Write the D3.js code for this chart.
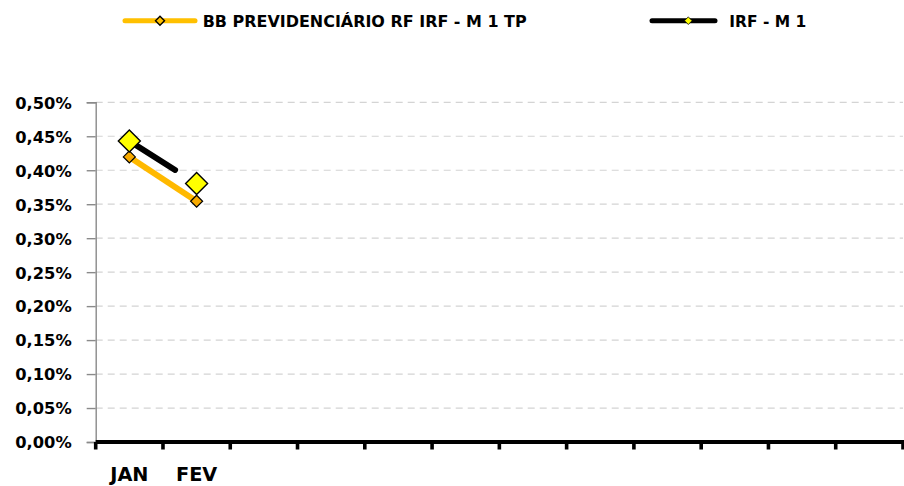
<!DOCTYPE html>
<html><head><meta charset="utf-8">
<script src="https://cdn.jsdelivr.net/npm/d3@7"></script>
<style>
html,body{margin:0;padding:0;background:#fff;}
svg{display:block;font-family:"DejaVu Sans",Verdana,sans-serif;font-weight:bold;}
</style></head>
<body><svg id="c" width="904" height="486"></svg>
<script>
const months = ["JAN","FEV","MAR","ABR","MAI","JUN","JUL","AGO","SET","OUT","NOV","DEZ"];
const monthLabels = ["JAN","FEV","","","","","","","","","",""];
const bbValues = [0.4196, 0.3544];
const irfValues = [0.4431, 0.3804];
const yTicks = [0,0.05,0.10,0.15,0.20,0.25,0.30,0.35,0.40,0.45,0.50];
const seriesNames = ["BB PREVIDENCIÁRIO RF IRF - M 1 TP","IRF - M 1"];

const svg = d3.select("#c");
const L=95.7, R=903, T=102.3, B=442;
const x = d3.scaleBand().domain(months).range([L,R]);
const y = d3.scaleLinear().domain([0,0.5]).range([B,T]);
const fmt = v => d3.format(".2f")(v).replace(".",",")+"%";
const FONT = "'DejaVu Sans',Verdana,sans-serif";

// gridlines
svg.append("g").selectAll("line").data(yTicks.filter(d=>d>0)).join("line")
  .attr("x1",L).attr("x2",R).attr("y1",d=>y(d)).attr("y2",d=>y(d))
  .attr("stroke","#d4d4d4").attr("stroke-width",1.2).attr("stroke-dasharray","7,5");

// y axis
const ya = svg.append("g").attr("transform",`translate(${L},0)`)
  .call(d3.axisLeft(y).tickValues(yTicks).tickFormat(fmt).tickSize(9).tickPadding(15));
ya.select(".domain").attr("stroke","#8a8a8a").attr("stroke-width",1.4);
ya.selectAll(".tick line").attr("stroke","#8a8a8a").attr("stroke-width",1.4);
ya.selectAll("text").attr("font-size",16.3).attr("font-weight","bold").attr("fill","#000")
  .attr("font-family",FONT).attr("dy","0.36em");

// x axis
const xTickPos = months.map(m=>x(m)).concat([R]);
const xa = svg.append("g");
xa.append("line").attr("x1",L).attr("x2",R+1).attr("y1",B).attr("y2",B)
  .attr("stroke","#000").attr("stroke-width",4);
xa.selectAll("line.t").data(xTickPos).join("line").attr("class","t")
  .attr("x1",d=>d).attr("x2",d=>d).attr("y1",B).attr("y2",B+7.5)
  .attr("stroke","#000").attr("stroke-width",3.6);
xa.selectAll("text").data(months).join("text")
  .attr("x",d=>x(d)+x.bandwidth()/2).attr("y",481.3)
  .attr("text-anchor","middle").attr("font-size",19.3).attr("fill","#000")
  .text((d,i)=>monthLabels[i]);

function diamondPath(r){ return `M0,${-r}L${r},0L0,${r}L${-r},0Z`; }
const line = d3.line().x((d,i)=>x(months[i])+x.bandwidth()/2).y(d=>y(d));

// IRF line (black), partially drawn
const irfPath = svg.append("path").datum(irfValues).attr("d",line)
  .attr("fill","none").attr("stroke","#000").attr("stroke-width",6).attr("stroke-linecap","round");
const len = irfPath.node().getTotalLength();
irfPath.attr("stroke-dasharray",`${len*0.68},${len}`);

// BB line (yellow)
svg.append("path").datum(bbValues).attr("d",line)
  .attr("fill","none").attr("stroke","#FFB900").attr("stroke-width",6).attr("stroke-linecap","butt");

// BB markers
svg.append("g").selectAll("path").data(bbValues).join("path")
  .attr("transform",(d,i)=>`translate(${x(months[i])+x.bandwidth()/2},${y(d)})`)
  .attr("d",diamondPath(6)).attr("fill","#F7AA00").attr("stroke","#000").attr("stroke-width",1.2);

// IRF markers
svg.append("g").selectAll("path").data(irfValues).join("path")
  .attr("transform",(d,i)=>`translate(${x(months[i])+x.bandwidth()/2},${y(d)})`)
  .attr("d",diamondPath(11)).attr("fill","#FFFF00").attr("stroke","#000").attr("stroke-width",1.4);

// legend
const leg = svg.append("g").attr("font-family",FONT);
const LY = 20.7;
// item 1
leg.append("line").attr("x1",125).attr("x2",195).attr("y1",LY).attr("y2",LY)
  .attr("stroke","#FFC000").attr("stroke-width",5).attr("stroke-linecap","round");
leg.append("path").attr("transform",`translate(160,${LY})`).attr("d",diamondPath(4.5))
  .attr("fill","#FFC000").attr("stroke","#000").attr("stroke-width",1.4);
leg.append("text").attr("x",202.7).attr("y",26.8).attr("font-size",15.7).attr("fill","#000")
  .attr("textLength",324).attr("lengthAdjust","spacingAndGlyphs").text(seriesNames[0]);
// item 2
leg.append("line").attr("x1",652).attr("x2",715).attr("y1",LY).attr("y2",LY)
  .attr("stroke","#000").attr("stroke-width",5).attr("stroke-linecap","round");
leg.append("path").attr("transform",`translate(688.3,${LY})`).attr("d",diamondPath(3.8))
  .attr("fill","#FFFF00").attr("stroke","#000").attr("stroke-width",0.8);
leg.append("text").attr("x",729.3).attr("y",26.8).attr("font-size",15.7).attr("fill","#000")
  .attr("textLength",77).attr("lengthAdjust","spacingAndGlyphs").text(seriesNames[1]);
</script></body></html>
